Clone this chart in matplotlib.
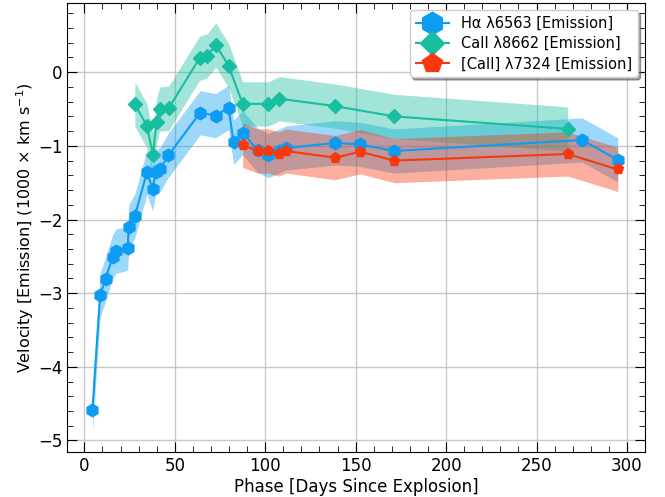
from matplotlib import pyplot as plt
from matplotlib.ticker import MultipleLocator
import numpy as np


# H-alpha 6563 emission velocities (1000 km/s)
ha_phase = [4.5, 8.7, 11.7, 15.6, 17.4, 23.9, 24.6, 27.9, 34.6, 37.7, 39.5,
            41.9, 46.4, 64.0, 72.6, 79.7, 82.5, 87.5, 95.8, 101.7, 107.8,
            111.4, 138.6, 152.5, 171.4, 275.2, 294.9]
ha_vel = [-4.58, -3.03, -2.81, -2.51, -2.43, -2.39, -2.10, -1.95, -1.36, -1.58,
          -1.36, -1.32, -1.13, -0.55, -0.59, -0.48, -0.95, -0.82, -1.06, -1.13,
          -1.07, -1.03, -0.96, -0.98, -1.07, -0.92, -1.19]
ha_err = [0.3] * len(ha_phase)

# CaII 8662
ca_phase = [27.9, 34.6, 37.9, 39.9, 41.6, 46.6, 63.7, 67.8, 72.7, 79.7, 87.5,
            101.7, 107.8, 138.6, 171.4, 267.2]
ca_vel = [-0.43, -0.73, -1.12, -0.67, -0.50, -0.49, 0.19, 0.22, 0.37, 0.09,
          -0.43, -0.43, -0.36, -0.46, -0.60, -0.77]
ca_err = [0.3] * len(ca_phase)

# [CaII] 7324
fca_phase = [87.5, 95.8, 101.7, 107.4, 111.4, 138.6, 152.5, 171.4, 267.2, 294.9]
fca_vel = [-0.99, -1.07, -1.07, -1.11, -1.07, -1.16, -1.08, -1.20, -1.11, -1.32]
fca_err = [0.3] * len(fca_phase)

series = [
    (ha_phase, ha_vel, ha_err, '#0c9cf2', 'h', 9, 'Hα λ6563 [Emission]'),
    (ca_phase, ca_vel, ca_err, '#17be9f', 'D', 7, 'CaII λ8662 [Emission]'),
    (fca_phase, fca_vel, fca_err, '#f8380e', 'p', 8, '[CaII] λ7324 [Emission]'),
]

fig = plt.figure(figsize=(6.65, 4.97), dpi=100)
ax = fig.subplots()

for x, y, e, c, m, ms, lab in series:
    x = np.array(x)
    y = np.array(y)
    e = np.array(e)
    ax.fill_between(x, y - e, y + e, color=c, alpha=0.4, lw=0)
    ax.plot(x, y, color=c, marker=m, ms=ms, lw=1.5, label=lab)

ax.set_xlim(-9.5, 310)
ax.set_ylim(-5.16, 0.94)
ax.xaxis.set_major_locator(MultipleLocator(50))
ax.xaxis.set_minor_locator(MultipleLocator(10))
ax.yaxis.set_major_locator(MultipleLocator(1))
ax.yaxis.set_minor_locator(MultipleLocator(0.2))
ax.tick_params(which='both', direction='in', top=True, right=True, labelsize=12)
ax.tick_params(which='major', length=7)
ax.tick_params(which='minor', length=4)
ax.grid(True, which='major', color='#bbbbbb', lw=1, alpha=0.8)
ax.set_axisbelow(True)

ax.set_xlabel('Phase [Days Since Explosion]', fontsize=12, labelpad=2)
ax.set_ylabel('Velocity [Emission] (1000 × km s$^{-1}$)', fontsize=11.5, labelpad=1)
ax.legend(loc='upper right', fontsize=10.5, shadow=True, fancybox=True,
          markerscale=1.8, handlelength=2.3, borderaxespad=0.5, labelspacing=0.35)

fig.subplots_adjust(left=0.101, right=0.97, top=0.994, bottom=0.09)
fig.savefig('out.png', dpi=100)
